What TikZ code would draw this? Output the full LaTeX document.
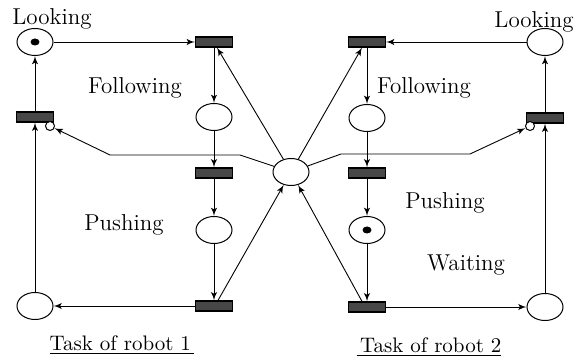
\documentclass[tikz,border=0pt]{standalone}
\usepackage{tikz}
\usetikzlibrary{arrows}
\usetikzlibrary{shapes.geometric}
\tikzset{>=latex',
         place/.style = {draw, ellipse, fill=white, line width=0.5pt,
                         minimum width=18pt, minimum height=13.5pt, inner sep=0pt},
         trans/.style = {draw, fill=black!72, line width=0.6pt,
                         minimum width=18.5pt, minimum height=5pt, inner sep=0pt},
         token/.style = {fill=black, ellipse, minimum width=4.5pt,
                         minimum height=3.5pt, inner sep=0pt},
         inhib/.style = {draw, circle, fill=white, line width=0.5pt,
                         minimum size=4.5pt, inner sep=0pt},
         arc/.style = {->, line width=0.45pt},
         lbl/.style = {font=\fontsize{11.5}{13}\selectfont},
         task/.style = {font=\fontsize{10.5}{12}\selectfont}}

\begin{document}
\begin{tikzpicture}[x=0.5pt, y=-0.5pt]
      \useasboundingbox (0, 0) rectangle (581, 362);

      % robot 1
      \node [place] (lookA) at (35, 42) {};
      \node [token] (tokA) at (lookA) {};
      \node [trans] (tA1) at (35, 117) {};
      \node [place] (waitA) at (35, 306) {};
      \node [trans] (tA2) at (214, 42) {};
      \node [place] (followA) at (214, 117) {};
      \node [trans] (tA3) at (214, 173) {};
      \node [place] (pushA) at (214, 230) {};
      \node [trans] (tA4) at (214, 306) {};

      % robot 2
      \node [place] (lookB) at (545, 42) {};
      \node [trans] (tB1) at (545, 118) {};
      \node [place] (waitB) at (545, 307) {};
      \node [trans] (tB2) at (367, 42) {};
      \node [place] (followB) at (367, 118) {};
      \node [trans] (tB3) at (367, 173) {};
      \node [place] (pushB) at (367, 230) {};
      \node [token] (tokB) at (pushB) {};
      \node [trans] (tB4) at (367, 307) {};

      % shared place
      \node [place] (free) at (291, 172) {};

      \draw [arc] (lookA) -- (tA2);
      \draw [arc] (tA2) -- (followA);
      \draw [arc] (followA) -- (tA3);
      \draw [arc] (tA3) -- (pushA);
      \draw [arc] (pushA) -- (tA4);
      \draw [arc] (tA4) -- (waitA);
      \draw [arc] (waitA) -- (tA1);
      \draw [arc] (tA1) -- (lookA);

      \draw [arc] (lookB) -- (tB2);
      \draw [arc] (tB2) -- (followB);
      \draw [arc] (followB) -- (tB3);
      \draw [arc] (tB3) -- (pushB);
      \draw [arc] (pushB) -- (tB4);
      \draw [arc] (tB4) -- (waitB);
      \draw [arc] (waitB) -- (tB1);
      \draw [arc] (tB1) -- (lookB);

      \draw [arc] (free) -- ([xshift=1.5pt]tA2.south);
      \draw [arc] (free) -- ([xshift=-2.5pt]tB2.south);
      \draw [arc] ([xshift=2pt]tA4.north) -- (free);
      \draw [arc] ([xshift=-2.5pt]tB4.north) -- (free);

      % inhibitor arcs
      \node [inhib] (inhA) at (50, 126) {};
      \node [inhib] (inhB) at (530, 126) {};
      \coordinate (kA1) at (240, 155);
      \coordinate (kA2) at (110, 155);
      \coordinate (kB1) at (341, 154);
      \coordinate (kB2) at (470, 154);
      \draw [arc] (free) -- (kA1) -- (kA2) -- (inhA);
      \draw [arc] (free) -- (kB1) -- (kB2) -- (inhB);

      \node [lbl] (lookAtxt) at (52, 19) {Looking};
      \node [lbl] (lookBtxt) at (534, 22) {Looking};
      \node [lbl] (followAtxt) at (135, 88) {Following};
      \node [lbl] (followBtxt) at (424, 88) {Following};
      \node [lbl] (pushAtxt) at (124, 225) {Pushing};
      \node [lbl] (pushBtxt) at (445, 203) {Pushing};
      \node [lbl] (waitBtxt) at (466, 265) {Waiting};

      \node [task] (taskA) at (122, 345) {\underline{Task of robot 1\,}};
      \node [task] (taskB) at (429, 347) {\underline{\,Task of robot 2}};
\end{tikzpicture}
\end{document}
